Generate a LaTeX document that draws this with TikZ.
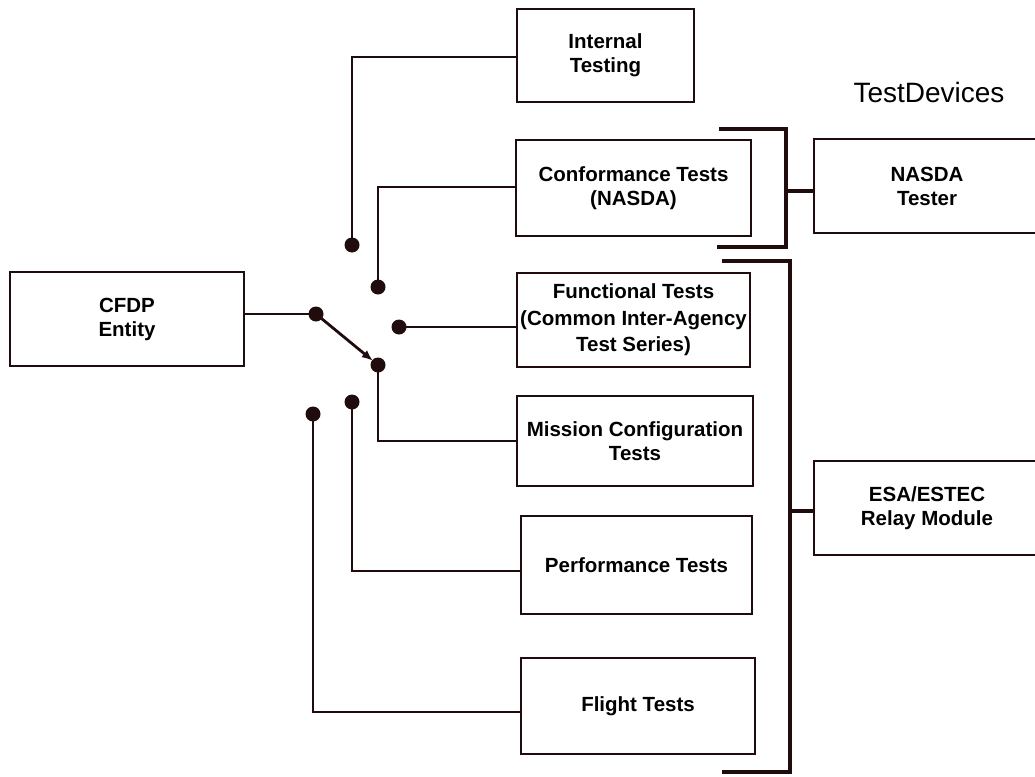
\documentclass[tikz,border=0pt]{standalone}
\usepackage{fontspec}
\setmainfont{Liberation Sans}
\usetikzlibrary{arrows.meta,calc}
\definecolor{inkdark}{RGB}{32,12,12}
\tikzset{>=latex,
    testbox/.style={draw=inkdark,line width=2.8pt,inner sep=0pt,align=center,
        font=\fontsize{20.5}{24}\selectfont\bfseries},
    swdot/.style={circle,fill=inkdark,inner sep=0pt,minimum size=15pt},
    wire/.style={draw=inkdark,line width=2.8pt},
    bracket/.style={draw=inkdark,line width=3.2pt}
}
\begin{document}
\begin{tikzpicture}[x=1pt,y=-1pt]
  \useasboundingbox (0,0) rectangle (1035,776);

  % boxes
  \node[testbox,minimum width=234pt,minimum height=94pt] (cfdp) at (127,319) {CFDP\\Entity};
  \node[testbox,minimum width=177pt,minimum height=93pt] (internal) at (605.5,55.5) {Internal\\Testing};
  \node[testbox,minimum width=235pt,minimum height=96pt] (conf) at (633.5,188) {Conformance Tests\\(NASDA)};
  \node[testbox,minimum width=233pt,minimum height=94pt,font=\fontsize{20.5}{26.5}\selectfont\bfseries] (func) at (633.5,320) {Functional Tests\\(Common Inter-Agency\\Test Series)};
  \node[testbox,minimum width=236pt,minimum height=90pt] (mission) at (635,441) {Mission Configuration\\Tests};
  \node[testbox,minimum width=231pt,minimum height=98pt] (perf) at (636.5,565) {Performance Tests};
  \node[testbox,minimum width=234pt,minimum height=96pt] (flight) at (638,706) {Flight Tests};
  \node[testbox,minimum width=226pt,minimum height=94pt] (nasda) at (927,186) {NASDA\\Tester};
  \node[testbox,minimum width=226pt,minimum height=94pt] (esa) at (927,508) {ESA/ESTEC\\Relay Module};
  \node[font=\fontsize{28}{32}\selectfont] (devices) at (929,92) {TestDevices};

  % switch contacts
  \node[swdot] (pivot) at (316,314) {};
  \node[swdot] (dI) at (352,245) {};
  \node[swdot] (dC) at (378,287) {};
  \node[swdot] (dF) at (399,327) {};
  \node[swdot] (dM) at (378,365) {};
  \node[swdot] (dP) at (352,402) {};
  \node[swdot] (dL) at (313,414) {};

  \coordinate (cI) at (352,57);
  \coordinate (cC) at (378,187);
  \coordinate (cM) at (378,441);
  \coordinate (cP) at (352,571);
  \coordinate (cL) at (313,712);

  % wiring
  \draw[wire] (cfdp.east |- pivot) -- (pivot.center);
  \draw[wire,-{Latex[length=11pt,width=9pt]},shorten >=-1pt] (pivot.center) -- (dM);
  \draw[wire] (dI.center) -- (cI) -- (cI -| internal.west);
  \draw[wire] (dC.center) -- (cC) -- (cC -| conf.west);
  \draw[wire] (dF.center) -- (dF -| func.west);
  \draw[wire] (dM.center) -- (cM) -- (cM -| mission.west);
  \draw[wire] (dP.center) -- (cP) -- (cP -| perf.west);
  \draw[wire] (dL.center) -- (cL) -- (cL -| flight.west);

  % device brackets
  \coordinate (bN) at (786,191);
  \draw[bracket] (719,129) -- (786,129) -- (786,247) -- (717,247);
  \draw[bracket] (bN) -- (bN -| nasda.west);
  \coordinate (bE) at (790,511);
  \draw[bracket,line width=4.2pt] (722,261) -- (790,261) -- (790,772) -- (722,772);
  \draw[bracket] (bE) -- (bE -| esa.west);
\end{tikzpicture}
\end{document}
